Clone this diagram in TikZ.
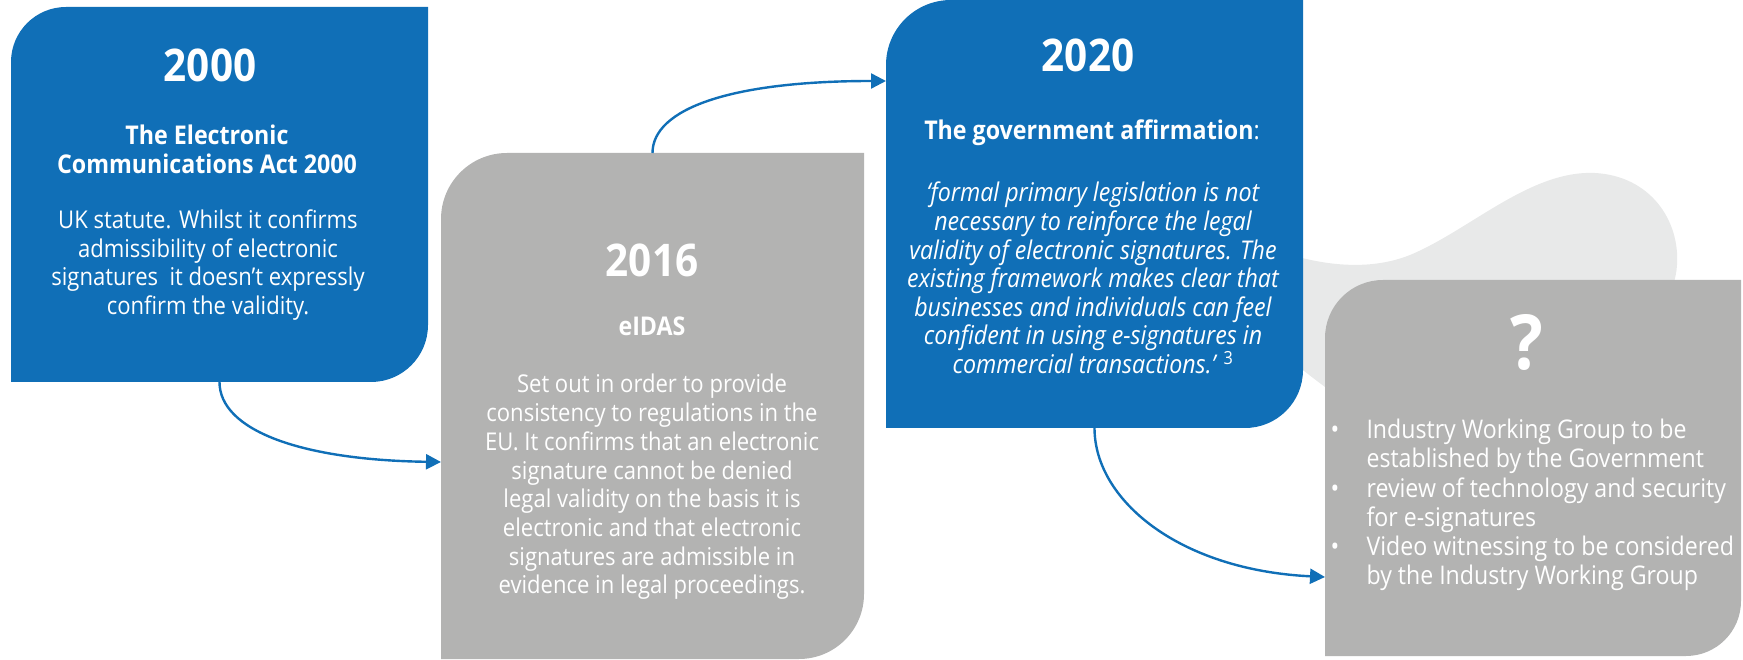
\documentclass[tikz,border=0pt]{standalone}
\usepackage{fontspec}
\setmainfont{Open Sans}[FakeStretch=0.9]
\usetikzlibrary{arrows.meta}

\definecolor{tlblue}{RGB}{16,111,183}
\definecolor{tlgrey}{RGB}{179,179,178}
\definecolor{blobgrey}{RGB}{232,233,233}

% A card with a rounded top-left and bottom-right corner
\newcommand\cardshape[4]{% node, colour, top-left radius, bottom-right radius
  \fill[#2] (#1.south west) -- ([yshift=-#3]#1.north west)
    arc[start angle=180,end angle=90,radius=#3] -- (#1.north east)
    -- ([yshift=#4]#1.south east)
    arc[start angle=0,end angle=-90,radius=#4] -- cycle;}

\newlength\bulletgap
\setlength\bulletgap{36pt}

\begin{document}
\begin{tikzpicture}[x=1pt,y=1pt,
  cardarea/.style n args={2}{inner sep=0pt,outer sep=0pt,minimum width=#1,minimum height=#2},
  yeartext/.style={text=white,font=\bfseries\fontsize{45}{50}\selectfont},
  titletext/.style={text=white,align=center,font=\bfseries\fontsize{25.8}{29}\selectfont},
  bodytext/.style={text=white,align=center,font=\fontsize{24.5}{28.7}\selectfont},
  quotetext/.style={text=white,align=center,font=\itshape\fontsize{25.8}{28.6}\selectfont},
  listtext/.style={text=white,align=left,font=\fontsize{25.7}{29.3}\selectfont},
  flow/.style={draw=tlblue,line width=2.4pt,-{Triangle[length=15pt,width=15pt]}}]

\useasboundingbox (0,0) rectangle (1743,659);

% soft background blob behind the last two cards
\fill[blobgrey] (1250,419) .. controls (1300,397) and (1360,384) .. (1410,404)
  .. controls (1470,429) and (1530,489) .. (1595,486)
  .. controls (1650,483) and (1680,439) .. (1677,394)
  .. controls (1674,339) and (1600,259) .. (1500,239)
  .. controls (1420,229) and (1360,244) .. (1325,272)
  .. controls (1300,291) and (1260,319) .. (1250,359) -- cycle;

% card areas
\node[cardarea={417pt}{375pt}] (c2000) at (219.5,464.5) {};
\node[cardarea={423pt}{506pt}] (c2016) at (652.5,253) {};
\node[cardarea={417pt}{428pt}] (c2020) at (1094.5,445) {};
\node[cardarea={416pt}{376pt}] (cnext) at (1533,191) {};

\cardshape{c2000}{tlblue}{55pt}{57pt}
\cardshape{c2016}{tlgrey}{66pt}{65pt}
\cardshape{c2020}{tlblue}{65pt}{58pt}
\cardshape{cnext}{tlgrey}{58pt}{55pt}

% 2000
\node[yeartext] (y2000) at (210,594) {2000};
\node[titletext] (h2000) at (207,510) {The Electronic\\Communications Act 2000};
\node[bodytext] (t2000) at (208,394) {UK statute. Whilst it confirms\\admissibility of electronic\\signatures\ \ it doesn’t expressly\\confirm the validity.};

% 2016
\node[yeartext] (y2016) at (652,399) {2016};
\node[titletext] (h2016) at (652,333) {eIDAS};
\node[bodytext] (t2016) at (652,172) {Set out in order to provide\\consistency to regulations in the\\EU. It confirms that an electronic\\signature cannot be denied\\legal validity on the basis it is\\electronic and that electronic\\signatures are admissible in\\evidence in legal proceedings.};

% 2020
\node[yeartext] (y2020) at (1088,604) {2020};
\node[titletext] (h2020) at (1092,526) {The government affirmation\mdseries:};
\node[quotetext] (t2020) at (1093,381) {‘formal primary legislation is not\\necessary to reinforce the legal\\validity of electronic signatures. The\\existing framework makes clear that\\businesses and individuals can feel\\confident in using e-signatures in\\commercial transactions.’ {\upshape\textsuperscript{3}}};

% what comes next
\node[text=white,font=\bfseries\fontsize{76}{80}\selectfont] (qnext) at (1527,317) {?};
\node[listtext,anchor=west] (tnext) at (1327,154) {%
\makebox[\bulletgap][l]{•}Industry Working Group to be\\
\hspace*{\bulletgap}established by the Government\\
\makebox[\bulletgap][l]{•}review of technology and security\\
\hspace*{\bulletgap}for e-signatures\\
\makebox[\bulletgap][l]{•}Video witnessing to be considered\\
\hspace*{\bulletgap}by the Industry Working Group};

% connectors
\draw[flow] (c2000.south) .. controls +(0,-48) and +(-141,2) .. ([yshift=-309pt]c2016.north west);
\draw[flow] (c2016.north) .. controls +(0,44) and +(-156,0) .. ([yshift=-81pt]c2020.north west);
\draw[flow] (c2020.south) .. controls +(0,-72) and +(-146,7) .. ([yshift=-297pt]cnext.north west);
\end{tikzpicture}
\end{document}
